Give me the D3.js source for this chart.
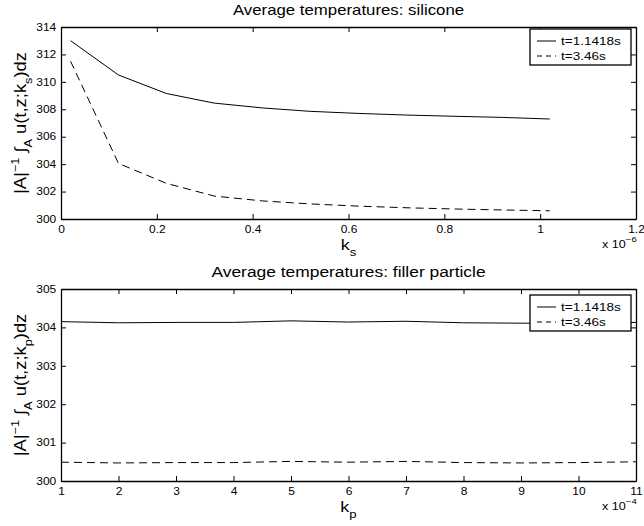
<!DOCTYPE html>
<html>
<head>
<meta charset="utf-8">
<script src="https://cdn.jsdelivr.net/npm/d3@7"></script>
<style>
  body { margin: 0; background: #fff; }
  svg { display: block; font-family: "Liberation Sans", Arial, Helvetica, sans-serif; }
</style>
</head>
<body>
<svg id="chart" width="644" height="526"></svg>
<script>
// silicone: k_s values (x 1e-6)
var ksValues = [0.02, 0.12, 0.22, 0.32, 0.42, 0.52, 0.62, 0.72, 0.82, 0.92, 1.02];
var siliconeT1 = [313.0, 310.5, 309.15, 308.45, 308.1, 307.85, 307.7, 307.58, 307.49, 307.41, 307.29];
var siliconeT2 = [311.5, 304.05, 302.6, 301.67, 301.32, 301.1, 300.94, 300.82, 300.73, 300.66, 300.6];
var ksTicks = [0, 0.2, 0.4, 0.6, 0.8, 1, 1.2];
var ksYTicks = [300, 302, 304, 306, 308, 310, 312, 314];

// filler particle: k_p values (x 1e-4)
var kpValues = [1, 2, 3, 4, 5, 6, 7, 8, 9, 10, 11];
var fillerT1 = [304.15, 304.12, 304.13, 304.13, 304.17, 304.14, 304.16, 304.12, 304.11, 304.11, 304.13];
var fillerT2 = [300.49, 300.47, 300.48, 300.48, 300.51, 300.49, 300.51, 300.48, 300.47, 300.48, 300.5];
var kpTicks = [1, 2, 3, 4, 5, 6, 7, 8, 9, 10, 11];
var kpYTicks = [300, 301, 302, 303, 304, 305];

var seriesNames = ["t=1.1418s", "t=3.46s"];

// the original picture has its text stretched sideways
var stretch = 1.2;

var svg = d3.select("#chart");

function wideText(parent, x, y, size)
{
    return parent.append("text")
        .attr("transform", "translate(" + x + "," + y + ") scale(" + stretch + ",1)")
        .style("font-size", size + "px");
}

function drawPanel(opt)
{
    var left = 61, right = 636;
    var top = opt.top, bottom = opt.top + 192;

    var xScale = d3.scaleLinear().domain(opt.xDomain).range([left, right]);
    var yScale = d3.scaleLinear().domain(opt.yDomain).range([bottom, top]);

    var g = svg.append("g");

    // title
    wideText(g, (left + right) / 2, top - 12, opt.titleSize)
        .attr("text-anchor", "middle")
        .text(opt.title);

    // axes with inward ticks on all four sides
    var tickLen = 5;
    g.append("g")
        .attr("transform", "translate(0," + bottom + ")")
        .call(d3.axisBottom(xScale).tickValues(opt.xTicks).tickSizeInner(-tickLen).tickSizeOuter(0).tickPadding(7).tickFormat(d3.format("")));
    g.append("g")
        .attr("transform", "translate(0," + top + ")")
        .call(d3.axisTop(xScale).tickValues(opt.xTicks).tickSizeInner(-tickLen).tickSizeOuter(0).tickFormat(""));
    g.append("g")
        .attr("class", "yaxis")
        .attr("transform", "translate(" + left + ",0)")
        .call(d3.axisLeft(yScale).tickValues(opt.yTicks).tickSizeInner(-tickLen).tickSizeOuter(0).tickPadding(4).tickFormat(d3.format("")));
    g.append("g")
        .attr("transform", "translate(" + right + ",0)")
        .call(d3.axisRight(yScale).tickValues(opt.yTicks).tickSizeInner(-tickLen).tickSizeOuter(0).tickFormat(""));

    g.selectAll(".domain").attr("stroke", "#000").attr("stroke-width", 1.3);
    g.selectAll(".tick line").attr("stroke", "#000");
    g.selectAll(".tick text")
        .attr("fill", "#000")
        .attr("transform", "scale(" + stretch + ",1)")
        .style("font-size", "10px")
        .style("font-family", "'Liberation Sans', Arial, sans-serif");

    // data lines
    var line = d3.line()
        .x(function (d) { return xScale(d[0]); })
        .y(function (d) { return yScale(d[1]); });

    g.append("path")
        .datum(opt.x.map(function (v, i) { return [v, opt.y1[i]]; }))
        .attr("d", line)
        .attr("fill", "none")
        .attr("stroke", "#000")
        .attr("stroke-width", 1);

    g.append("path")
        .datum(opt.x.map(function (v, i) { return [v, opt.y2[i]]; }))
        .attr("d", line)
        .attr("fill", "none")
        .attr("stroke", "#000")
        .attr("stroke-width", 1)
        .attr("stroke-dasharray", "8,5");

    // x label with subscript
    var xl = wideText(g, (left + right) / 2, bottom + 31, 15)
        .attr("text-anchor", "middle");
    xl.append("tspan").text("k");
    xl.append("tspan").attr("dy", 6).style("font-size", "11px").text(opt.sub);

    // exponent label
    var ex = wideText(g, 602, bottom + 29, 10.5);
    ex.append("tspan").text("x 10");
    ex.append("tspan").attr("dy", -6).style("font-size", "8px").text(opt.exp);

    // y label, rotated
    var yl = g.append("text")
        .attr("transform", "translate(26," + (top + bottom) / 2 + ") rotate(-90) scale(1.15,1)")
        .attr("text-anchor", "middle")
        .style("font-size", "16px");
    yl.append("tspan").text("|A|");
    yl.append("tspan").attr("dy", -7).style("font-size", "11px").text("\u22121");
    yl.append("tspan").attr("dy", 7).text(" \u222B");
    yl.append("tspan").attr("dy", 6).style("font-size", "11px").text("A");
    yl.append("tspan").attr("dy", -6).text(" u(t,z;k");
    yl.append("tspan").attr("dy", 6).style("font-size", "11px").text(opt.sub);
    yl.append("tspan").attr("dy", -6).text(")dz");

    // legend
    var lx = 530, ly = opt.legendTop;
    var lg = g.append("g");
    lg.append("rect")
        .attr("x", lx).attr("y", ly)
        .attr("width", 101).attr("height", 36)
        .attr("fill", "#fff").attr("stroke", "#000").attr("stroke-width", 1.3);
    seriesNames.forEach(function (name, i)
    {
        var yy = ly + 12 + i * 15;
        lg.append("line")
            .attr("x1", lx + 7).attr("x2", lx + 26)
            .attr("y1", yy).attr("y2", yy)
            .attr("stroke", "#000").attr("stroke-width", 1)
            .attr("stroke-dasharray", i === 1 ? "5,4" : null);
        wideText(lg, lx + 31, yy + 4, 11.3).text(name);
    });
}

drawPanel({
    top: 27, title: "Average temperatures: silicone", titleSize: 14,
    xDomain: [0, 1.2], yDomain: [300, 314],
    xTicks: ksTicks, yTicks: ksYTicks,
    x: ksValues, y1: siliconeT1, y2: siliconeT2,
    sub: "s", exp: "\u22126", legendTop: 29
});

drawPanel({
    top: 289, title: "Average temperatures: filler particle", titleSize: 14.5,
    xDomain: [1, 11], yDomain: [300, 305],
    xTicks: kpTicks, yTicks: kpYTicks,
    x: kpValues, y1: fillerT1, y2: fillerT2,
    sub: "p", exp: "\u22124", legendTop: 295
});
</script>
</body>
</html>
